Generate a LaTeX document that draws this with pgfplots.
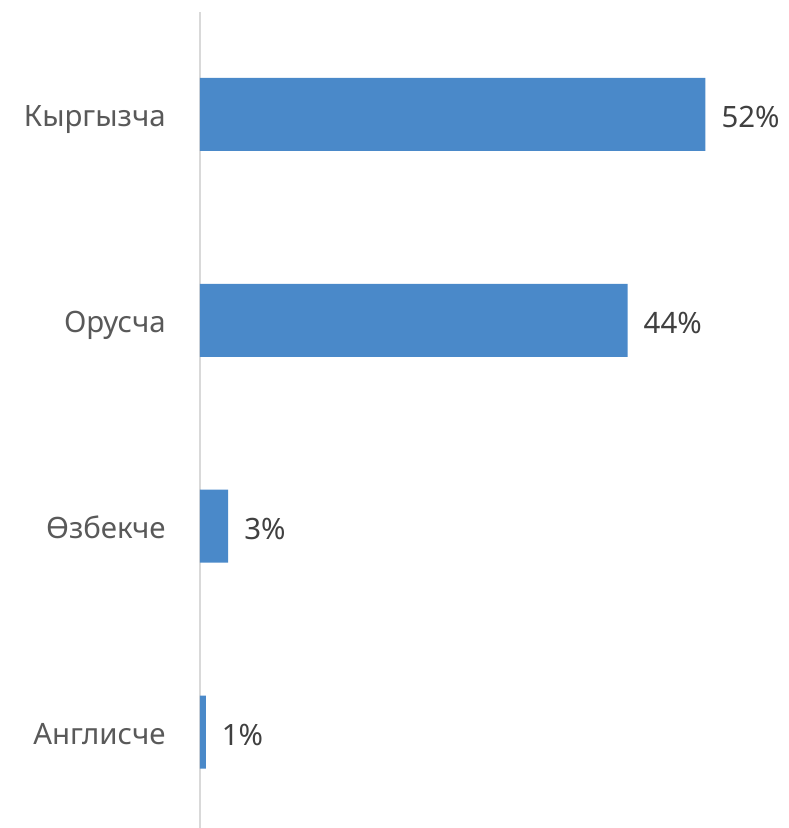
\documentclass[border=0pt]{standalone}
\usepackage{pgfplots}
\pgfplotsset{compat=1.18}
\usepackage{fontspec}
\setmainfont{Noto Sans}
\definecolor{barblue}{HTML}{4A89C9}
\definecolor{labgrey}{HTML}{595959}
\definecolor{valgrey}{HTML}{404040}
\definecolor{axgrey}{HTML}{D9D9D9}

\begin{document}
\begin{tikzpicture}
\path[use as bounding box] (-100pt,0pt) rectangle (294pt,414pt);
\begin{axis}[
    at={(0,0)}, anchor=south west,
    scale only axis,
    width=291.6pt, height=408pt,
    xmin=0, xmax=60,
    ymin=-0.466, ymax=3.4976,
    xbar, bar width=36.5pt,
    axis x line=none,
    axis y line=left,
    axis line style={-, draw=axgrey, line width=0.9pt},
    ytick={0,1,2,3},
    yticklabels={Англисче, Өзбекче, Орусча, Кыргызча},
    ytick style={draw=none},
    yticklabel style={font=\fontsize{14.7}{16}\selectfont, text=labgrey,
        text height=10.7pt, text depth=3.6pt, xshift=-11.5pt, yshift=-2.5pt},
    /pgf/number format/assume math mode=true,
    nodes near coords={\pgfmathprintnumber{\pgfplotspointmeta}\%},
    nodes near coords style={font=\fontsize{14.7}{16}\selectfont, text=valgrey, anchor=west, xshift=4.5pt, yshift=-1.5pt},
    point meta=explicit,
    clip=false,
]
\addplot[fill=barblue, draw=none] coordinates {
    (0.6,0) [1] (2.9,1) [3] (44,2) [44] (52,3) [52]
};
\end{axis}
\end{tikzpicture}
\end{document}
